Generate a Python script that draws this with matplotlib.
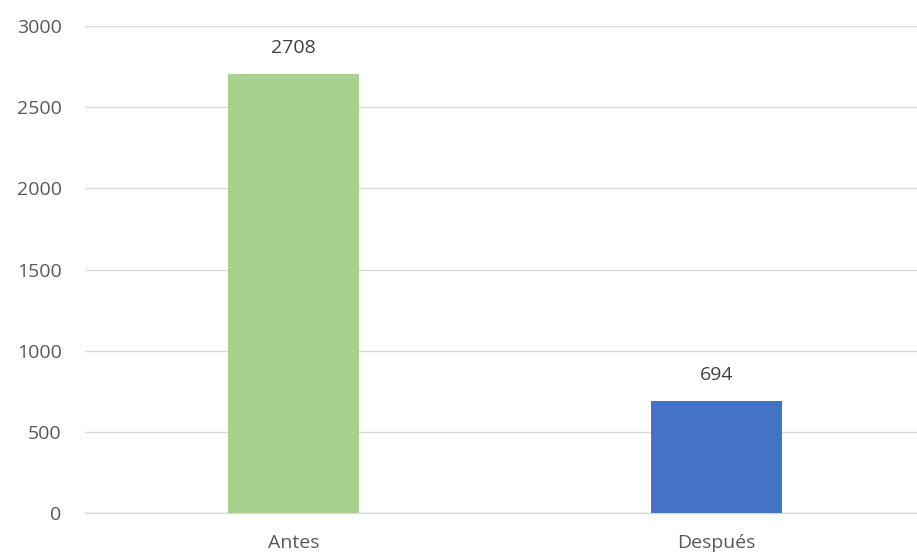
import matplotlib
matplotlib.use('Agg')
import matplotlib.pyplot as plt

# Chart data
categories = ['Antes', 'Después']
values = [2708, 694]
bar_colors = ['#A9D18E', '#4472C4']
y_ticks = [0, 500, 1000, 1500, 2000, 2500, 3000]

plt.rcParams['font.family'] = ['Open Sans', 'DejaVu Sans']

fig = plt.figure(figsize=(9.17, 5.56), dpi=100)
ax = fig.add_axes([0.093, 0.077, 0.907, 0.876])

x = range(len(categories))
bars = ax.bar(x, values, width=0.31, color=bar_colors, zorder=3)

# Value labels above bars
for b, v in zip(bars, values):
    ax.annotate(str(v), (b.get_x() + b.get_width() / 2, v),
                xytext=(0, 12), textcoords='offset points',
                ha='center', va='bottom', fontsize=14, color='#404040')

ax.set_xlim(-0.492, 1.475)
ax.set_ylim(0, 3000)
ax.set_xticks(list(x))
ax.set_xticklabels(categories)
ax.set_yticks(y_ticks)

ax.grid(axis='y', color='#D9D9D9', linewidth=1, zorder=0)
for side in ['top', 'right', 'left']:
    ax.spines[side].set_visible(False)
ax.spines['bottom'].set_color('#D9D9D9')
ax.spines['bottom'].set_linewidth(1)

ax.tick_params(axis='y', length=0, pad=17, labelsize=14, labelcolor='#595959')
ax.tick_params(axis='x', length=0, pad=15, labelsize=14, labelcolor='#595959')

fig.savefig('out.png', dpi=100)
